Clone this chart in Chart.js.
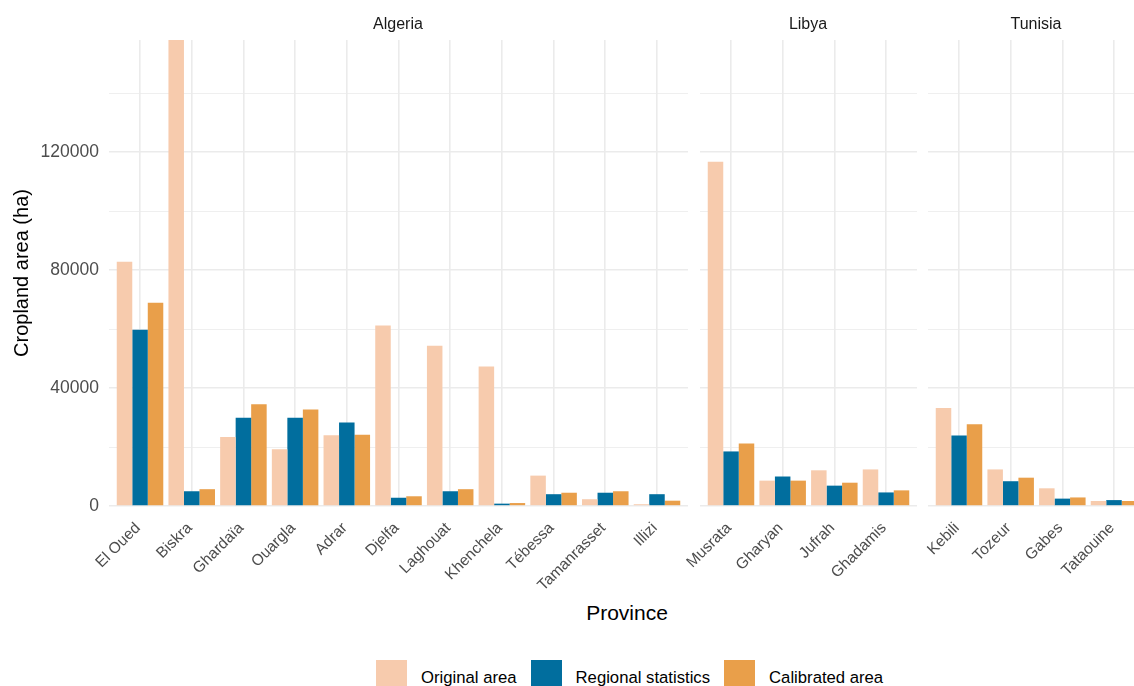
<!DOCTYPE html>
<html>
<head>
<meta charset="utf-8">
<script src="https://cdn.jsdelivr.net/npm/chart.js@4/dist/chart.umd.min.js"></script>
<style>
  html, body { margin: 0; padding: 0; background: #fff; }
  body { width: 1134px; height: 686px; overflow: hidden; position: relative;
         font-family: "Liberation Sans", Arial, sans-serif; }
  canvas { position: absolute; top: 0; }
  .strip { position: absolute; top: 14px; font-size: 16px; color: #1a1a1a;
           text-align: center; line-height: 20px; }
  .xtitle { position: absolute; left: 527px; width: 200px; top: 601px; text-align: center;
            font-size: 21px; color: #000; line-height: 24px; }
  .legend { position: absolute; left: 376px; top: 660px; height: 31px; display: flex;
            align-items: center; font-size: 16.7px; color: #000; white-space: nowrap; }
  .key { width: 31px; height: 31px; margin-right: 14px; }
  .lab { margin-right: 14px; position: relative; top: 2px; }
</style>
</head>
<body>
<canvas id="algeria" width="688" height="600" style="left:0px"></canvas>
<canvas id="libya" width="287" height="600" style="left:630px"></canvas>
<canvas id="tunisia" width="287" height="600" style="left:858px"></canvas>

<div class="strip" style="left:298px;width:200px">Algeria</div>
<div class="strip" style="left:708px;width:200px">Libya</div>
<div class="strip" style="left:936px;width:200px">Tunisia</div>
<div class="xtitle">Province</div>
<div class="legend" id="legend"></div>

<script>
// Cropland area (ha) per province, three sources each
const algeriaProvinces = ['El Oued', 'Biskra', 'Ghardaïa', 'Ouargla', 'Adrar', 'Djelfa',
                          'Laghouat', 'Khenchela', 'Tébessa', 'Tamanrasset', 'Illizi'];
const algeriaOriginal   = [82800, 172000, 23400, 19200, 24000, 61200, 54300, 47300, 10300, 2300, 600];
const algeriaRegional   = [59800, 5000, 29900, 29900, 28300, 2800, 5000, 800, 4000, 4500, 4000];
const algeriaCalibrated = [68900, 5700, 34500, 32700, 24200, 3300, 5700, 1000, 4500, 5000, 1800];

const libyaProvinces  = ['Musrata', 'Gharyan', 'Jufrah', 'Ghadamis'];
const libyaOriginal   = [116700, 8600, 12100, 12400];
const libyaRegional   = [18500, 10000, 6900, 4600];
const libyaCalibrated = [21200, 8600, 7900, 5300];

const tunisiaProvinces  = ['Kebili', 'Tozeur', 'Gabes', 'Tataouine'];
const tunisiaOriginal   = [33200, 12400, 6000, 1700];
const tunisiaRegional   = [23900, 8400, 2500, 2000];
const tunisiaCalibrated = [27700, 9600, 2900, 1700];

const seriesNames  = ['Original area', 'Regional statistics', 'Calibrated area'];
const seriesColors = ['#F7CBAD', '#016E9E', '#E99F4A'];

// labelled (major) ticks and all grid positions (major + minor)
const yTickLabels = [0, 40000, 80000, 120000];
const yGridValues = [0, 20000, 40000, 60000, 80000, 100000, 120000, 140000];
const yMax = 158000;

const FONT = '"Liberation Sans", Arial, sans-serif';
const GRID = '#EBEBEB';

function makePanel(id, provinces, original, regional, calibrated, withYAxis, leftPad) {
  const toPoints = arr => arr.map((v, i) => ({ x: i + 1, y: v }));
  const values = [original, regional, calibrated];
  const positions = provinces.map((_, i) => i + 1);

  return new Chart(document.getElementById(id), {
    type: 'bar',
    data: {
      datasets: values.map((arr, k) => ({
        label: seriesNames[k],
        data: toPoints(arr),
        backgroundColor: seriesColors[k],
        borderWidth: 0,
        clip: 0,
        categoryPercentage: 0.9,
        barPercentage: 1.0
      }))
    },
    options: {
      responsive: false,
      animation: false,
      devicePixelRatio: 1,
      layout: { padding: { top: 40, left: leftPad, right: 0, bottom: 0 } },
      plugins: { legend: { display: false }, tooltip: { enabled: false }, title: { display: false } },
      scales: {
        x: {
          type: 'linear',
          offset: false,
          min: 0.4,
          max: provinces.length + 0.6,
          afterBuildTicks: s => { s.ticks = positions.map(v => ({ value: v })); },
          afterFit: s => { s.height = 94; s.paddingLeft = 0; s.paddingRight = 0; },
          border: { display: false },
          grid: { color: GRID, lineWidth: 1.6, drawTicks: false, offset: false },
          ticks: {
            autoSkip: false,
            minRotation: 45,
            maxRotation: 45,
            padding: 13,
            labelOffset: -2,
            color: '#4D4D4D',
            font: { family: FONT, size: 15.5 },
            callback: (v, i) => provinces[i]
          }
        },
        y: {
          min: 0,
          max: yMax,
          border: { display: false },
          afterBuildTicks: s => { s.ticks = yGridValues.map(v => ({ value: v })); },
          afterFit: s => { s.width = withYAxis ? 109 : 0; s.paddingTop = 0; s.paddingBottom = 0; },
          grid: {
            color: GRID,
            drawTicks: false,
            lineWidth: c => (yTickLabels.includes(c.tick.value) ? 1.6 : 0.8)
          },
          ticks: {
            display: withYAxis,
            autoSkip: false,
            padding: 10,
            color: '#4D4D4D',
            font: { family: FONT, size: 17.5 },
            callback: v => (yTickLabels.includes(v) ? String(v) : '')
          },
          title: {
            display: withYAxis,
            text: 'Cropland area (ha)',
            color: '#000',
            font: { family: FONT, size: 20 },
            padding: { top: 10, bottom: 0 }
          }
        }
      }
    }
  });
}

makePanel('algeria', algeriaProvinces, algeriaOriginal, algeriaRegional, algeriaCalibrated, true, 0);
makePanel('libya', libyaProvinces, libyaOriginal, libyaRegional, libyaCalibrated, false, 70);
makePanel('tunisia', tunisiaProvinces, tunisiaOriginal, tunisiaRegional, tunisiaCalibrated, false, 70);

// shared legend below the panels
const legend = document.getElementById('legend');
seriesNames.forEach((name, k) => {
  const key = document.createElement('div');
  key.className = 'key';
  key.style.background = seriesColors[k];
  const lab = document.createElement('span');
  lab.className = 'lab';
  lab.textContent = name;
  legend.appendChild(key);
  legend.appendChild(lab);
});
</script>
</body>
</html>
